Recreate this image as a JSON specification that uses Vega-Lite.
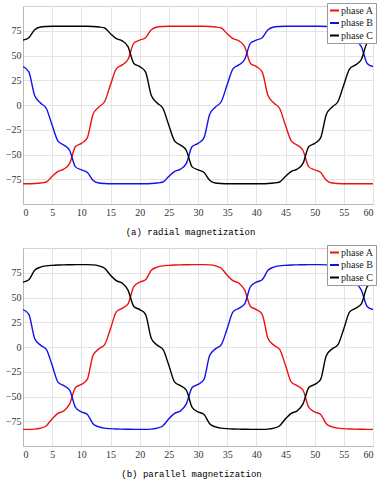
{
  "$schema": "https://vega.github.io/schema/vega-lite/v6.json",
  "padding": {"left": 2, "top": 2, "right": 10, "bottom": 0},
  "background": "white",
  "datasets": {
    "radial": [
      {"x":0,"phase A":-79.5,"phase B":38.8,"phase C":65.5},
      {"x":1,"phase A":-79.5,"phase B":33.5,"phase C":68},
      {"x":2,"phase A":-79.3,"phase B":9.5,"phase C":76},
      {"x":3,"phase A":-78.8,"phase B":2,"phase C":78.8},
      {"x":4,"phase A":-77.8,"phase B":-3.5,"phase C":79.3},
      {"x":5,"phase A":-72,"phase B":-20.5,"phase C":79.5},
      {"x":6,"phase A":-67,"phase B":-36.5,"phase C":79.5},
      {"x":7,"phase A":-64.8,"phase B":-40.5,"phase C":79.5},
      {"x":8,"phase A":-59,"phase B":-46,"phase C":79.5},
      {"x":9,"phase A":-42,"phase B":-62.5,"phase C":79.5},
      {"x":10,"phase A":-38.8,"phase B":-65.5,"phase C":79.5},
      {"x":11,"phase A":-33.5,"phase B":-68,"phase C":79.5},
      {"x":12,"phase A":-9.5,"phase B":-76,"phase C":79.3},
      {"x":13,"phase A":-2,"phase B":-78.8,"phase C":78.8},
      {"x":14,"phase A":3.5,"phase B":-79.3,"phase C":77.8},
      {"x":15,"phase A":20.5,"phase B":-79.5,"phase C":72},
      {"x":16,"phase A":36.5,"phase B":-79.5,"phase C":67},
      {"x":17,"phase A":40.5,"phase B":-79.5,"phase C":64.8},
      {"x":18,"phase A":46,"phase B":-79.5,"phase C":59},
      {"x":19,"phase A":62.5,"phase B":-79.5,"phase C":42},
      {"x":20,"phase A":65.5,"phase B":-79.5,"phase C":38.8},
      {"x":21,"phase A":68,"phase B":-79.5,"phase C":33.5},
      {"x":22,"phase A":76,"phase B":-79.3,"phase C":9.5},
      {"x":23,"phase A":78.8,"phase B":-78.8,"phase C":2},
      {"x":24,"phase A":79.3,"phase B":-77.8,"phase C":-3.5},
      {"x":25,"phase A":79.5,"phase B":-72,"phase C":-20.5},
      {"x":26,"phase A":79.5,"phase B":-67,"phase C":-36.5},
      {"x":27,"phase A":79.5,"phase B":-64.8,"phase C":-40.5},
      {"x":28,"phase A":79.5,"phase B":-59,"phase C":-46},
      {"x":29,"phase A":79.5,"phase B":-42,"phase C":-62.5},
      {"x":30,"phase A":79.5,"phase B":-38.8,"phase C":-65.5},
      {"x":31,"phase A":79.5,"phase B":-33.5,"phase C":-68},
      {"x":32,"phase A":79.3,"phase B":-9.5,"phase C":-76},
      {"x":33,"phase A":78.8,"phase B":-2,"phase C":-78.8},
      {"x":34,"phase A":77.8,"phase B":3.5,"phase C":-79.3},
      {"x":35,"phase A":72,"phase B":20.5,"phase C":-79.5},
      {"x":36,"phase A":67,"phase B":36.5,"phase C":-79.5},
      {"x":37,"phase A":64.8,"phase B":40.5,"phase C":-79.5},
      {"x":38,"phase A":59,"phase B":46,"phase C":-79.5},
      {"x":39,"phase A":42,"phase B":62.5,"phase C":-79.5},
      {"x":40,"phase A":38.8,"phase B":65.5,"phase C":-79.5},
      {"x":41,"phase A":33.5,"phase B":68,"phase C":-79.5},
      {"x":42,"phase A":9.5,"phase B":76,"phase C":-79.3},
      {"x":43,"phase A":2,"phase B":78.8,"phase C":-78.8},
      {"x":44,"phase A":-3.5,"phase B":79.3,"phase C":-77.8},
      {"x":45,"phase A":-20.5,"phase B":79.5,"phase C":-72},
      {"x":46,"phase A":-36.5,"phase B":79.5,"phase C":-67},
      {"x":47,"phase A":-40.5,"phase B":79.5,"phase C":-64.8},
      {"x":48,"phase A":-46,"phase B":79.5,"phase C":-59},
      {"x":49,"phase A":-62.5,"phase B":79.5,"phase C":-42},
      {"x":50,"phase A":-65.5,"phase B":79.5,"phase C":-38.8},
      {"x":51,"phase A":-68,"phase B":79.5,"phase C":-33.5},
      {"x":52,"phase A":-76,"phase B":79.3,"phase C":-9.5},
      {"x":53,"phase A":-78.8,"phase B":78.8,"phase C":-2},
      {"x":54,"phase A":-79.3,"phase B":77.8,"phase C":3.5},
      {"x":55,"phase A":-79.5,"phase B":72,"phase C":20.5},
      {"x":56,"phase A":-79.5,"phase B":67,"phase C":36.5},
      {"x":57,"phase A":-79.5,"phase B":64.8,"phase C":40.5},
      {"x":58,"phase A":-79.5,"phase B":59,"phase C":46},
      {"x":59,"phase A":-79.5,"phase B":42,"phase C":62.5},
      {"x":60,"phase A":-79.5,"phase B":38.8,"phase C":65.5}
    ],
    "parallel": [
      {"x":0,"phase A":-83.2,"phase B":37.8,"phase C":65.5},
      {"x":1,"phase A":-83.2,"phase B":33,"phase C":68},
      {"x":2,"phase A":-83,"phase B":8.6,"phase C":77.5},
      {"x":3,"phase A":-82,"phase B":1.9,"phase C":80.7},
      {"x":4,"phase A":-79.5,"phase B":-2.5,"phase C":82},
      {"x":5,"phase A":-72.5,"phase B":-18.5,"phase C":82.5},
      {"x":6,"phase A":-67,"phase B":-35.5,"phase C":82.8},
      {"x":7,"phase A":-64.5,"phase B":-39,"phase C":83},
      {"x":8,"phase A":-57.5,"phase B":-43.5,"phase C":83.1},
      {"x":9,"phase A":-41,"phase B":-61,"phase C":83.2},
      {"x":10,"phase A":-37.8,"phase B":-65.5,"phase C":83.2},
      {"x":11,"phase A":-33,"phase B":-68,"phase C":83.2},
      {"x":12,"phase A":-8.6,"phase B":-77.5,"phase C":83},
      {"x":13,"phase A":-1.9,"phase B":-80.7,"phase C":82},
      {"x":14,"phase A":2.5,"phase B":-82,"phase C":79.5},
      {"x":15,"phase A":18.5,"phase B":-82.5,"phase C":72.5},
      {"x":16,"phase A":35.5,"phase B":-82.8,"phase C":67},
      {"x":17,"phase A":39,"phase B":-83,"phase C":64.5},
      {"x":18,"phase A":43.5,"phase B":-83.1,"phase C":57.5},
      {"x":19,"phase A":61,"phase B":-83.2,"phase C":41},
      {"x":20,"phase A":65.5,"phase B":-83.2,"phase C":37.8},
      {"x":21,"phase A":68,"phase B":-83.2,"phase C":33},
      {"x":22,"phase A":77.5,"phase B":-83,"phase C":8.6},
      {"x":23,"phase A":80.7,"phase B":-82,"phase C":1.9},
      {"x":24,"phase A":82,"phase B":-79.5,"phase C":-2.5},
      {"x":25,"phase A":82.5,"phase B":-72.5,"phase C":-18.5},
      {"x":26,"phase A":82.8,"phase B":-67,"phase C":-35.5},
      {"x":27,"phase A":83,"phase B":-64.5,"phase C":-39},
      {"x":28,"phase A":83.1,"phase B":-57.5,"phase C":-43.5},
      {"x":29,"phase A":83.2,"phase B":-41,"phase C":-61},
      {"x":30,"phase A":83.2,"phase B":-37.8,"phase C":-65.5},
      {"x":31,"phase A":83.2,"phase B":-33,"phase C":-68},
      {"x":32,"phase A":83,"phase B":-8.6,"phase C":-77.5},
      {"x":33,"phase A":82,"phase B":-1.9,"phase C":-80.7},
      {"x":34,"phase A":79.5,"phase B":2.5,"phase C":-82},
      {"x":35,"phase A":72.5,"phase B":18.5,"phase C":-82.5},
      {"x":36,"phase A":67,"phase B":35.5,"phase C":-82.8},
      {"x":37,"phase A":64.5,"phase B":39,"phase C":-83},
      {"x":38,"phase A":57.5,"phase B":43.5,"phase C":-83.1},
      {"x":39,"phase A":41,"phase B":61,"phase C":-83.2},
      {"x":40,"phase A":37.8,"phase B":65.5,"phase C":-83.2},
      {"x":41,"phase A":33,"phase B":68,"phase C":-83.2},
      {"x":42,"phase A":8.6,"phase B":77.5,"phase C":-83},
      {"x":43,"phase A":1.9,"phase B":80.7,"phase C":-82},
      {"x":44,"phase A":-2.5,"phase B":82,"phase C":-79.5},
      {"x":45,"phase A":-18.5,"phase B":82.5,"phase C":-72.5},
      {"x":46,"phase A":-35.5,"phase B":82.8,"phase C":-67},
      {"x":47,"phase A":-39,"phase B":83,"phase C":-64.5},
      {"x":48,"phase A":-43.5,"phase B":83.1,"phase C":-57.5},
      {"x":49,"phase A":-61,"phase B":83.2,"phase C":-41},
      {"x":50,"phase A":-65.5,"phase B":83.2,"phase C":-37.8},
      {"x":51,"phase A":-68,"phase B":83.2,"phase C":-33},
      {"x":52,"phase A":-77.5,"phase B":83,"phase C":-8.6},
      {"x":53,"phase A":-80.7,"phase B":82,"phase C":-1.9},
      {"x":54,"phase A":-82,"phase B":79.5,"phase C":2.5},
      {"x":55,"phase A":-82.5,"phase B":72.5,"phase C":18.5},
      {"x":56,"phase A":-82.8,"phase B":67,"phase C":35.5},
      {"x":57,"phase A":-83,"phase B":64.5,"phase C":39},
      {"x":58,"phase A":-83.1,"phase B":57.5,"phase C":43.5},
      {"x":59,"phase A":-83.2,"phase B":41,"phase C":61},
      {"x":60,"phase A":-83.2,"phase B":37.8,"phase C":65.5}
    ]
  },
  "spacing": 7,
  "resolve": {"scale": {"color": "independent"}, "legend": {"color": "independent"}},
  "vconcat": [
    {
      "width": 350,
      "height": 198,
      "data": {"name": "radial"},
      "transform": [{"fold": ["phase A", "phase B", "phase C"], "as": ["phase", "value"]}],
      "mark": {"type": "line", "strokeWidth": 1.4, "interpolate": "monotone", "clip": true},
      "encoding": {
        "x": {"field": "x", "type": "quantitative", "scale": {"domain": [0, 60], "nice": false},
              "axis": {"values": [0,5,10,15,20,25,30,35,40,45,50,55,60], "title": "(a) radial magnetization",
                       "titleX": 167, "titleY": 27, "titleBaseline": "middle", "labelPadding": 3}},
        "y": {"field": "value", "type": "quantitative", "scale": {"domain": [-100, 100], "nice": false},
              "axis": {"values": [-75,-50,-25,0,25,50,75], "title": null, "labelPadding": 2, "minExtent": 20, "maxExtent": 20}},
        "color": {"field": "phase", "type": "nominal",
                  "scale": {"domain": ["phase A", "phase B", "phase C"], "range": ["#ee1111", "#1111ee", "#000000"]},
                  "legend": {"title": null}}
      }
    },
    {
      "width": 350,
      "height": 198,
      "data": {"name": "parallel"},
      "transform": [{"fold": ["phase A", "phase B", "phase C"], "as": ["phase", "value"]}],
      "mark": {"type": "line", "strokeWidth": 1.4, "interpolate": "monotone", "clip": true},
      "encoding": {
        "x": {"field": "x", "type": "quantitative", "scale": {"domain": [0, 60], "nice": false},
              "axis": {"values": [0,5,10,15,20,25,30,35,40,45,50,55,60], "title": "(b) parallel magnetization",
                       "titleX": 168, "titleY": 27, "titleBaseline": "middle", "labelPadding": 3}},
        "y": {"field": "value", "type": "quantitative", "scale": {"domain": [-100, 100], "nice": false},
              "axis": {"values": [-75,-50,-25,0,25,50,75], "title": null, "labelPadding": 2, "minExtent": 20, "maxExtent": 20}},
        "color": {"field": "phase", "type": "nominal",
                  "scale": {"domain": ["phase A", "phase B", "phase C"], "range": ["#ee1111", "#1111ee", "#000000"]},
                  "legend": {"title": null}}
      }
    }
  ],
  "config": {
    "view": {"stroke": "#d4d4d4", "strokeWidth": 1},
    "axis": {
      "labelFont": "Liberation Serif, Times New Roman, serif", "labelFontSize": 10, "labelColor": "#333333",
      "gridColor": "#e4e4e4", "gridWidth": 1, "domainColor": "#b8b8b8", "domainWidth": 1,
      "tickSize": 0,
      "titleFont": "Liberation Mono", "titleFontSize": 9, "titleFontWeight": "normal", "titleColor": "#000000"
    },
    "legend": {
      "orient": "none", "legendX": 304, "legendY": -3,
      "strokeColor": "#9a9a9a", "fillColor": "#ffffff", "padding": 2,
      "symbolType": "stroke", "symbolSize": 81, "symbolStrokeWidth": 2,
      "labelFont": "Liberation Serif, Times New Roman, serif", "labelFontSize": 10, "labelColor": "#222222",
      "labelOffset": 1, "rowPadding": 1.5
    }
  }
}
